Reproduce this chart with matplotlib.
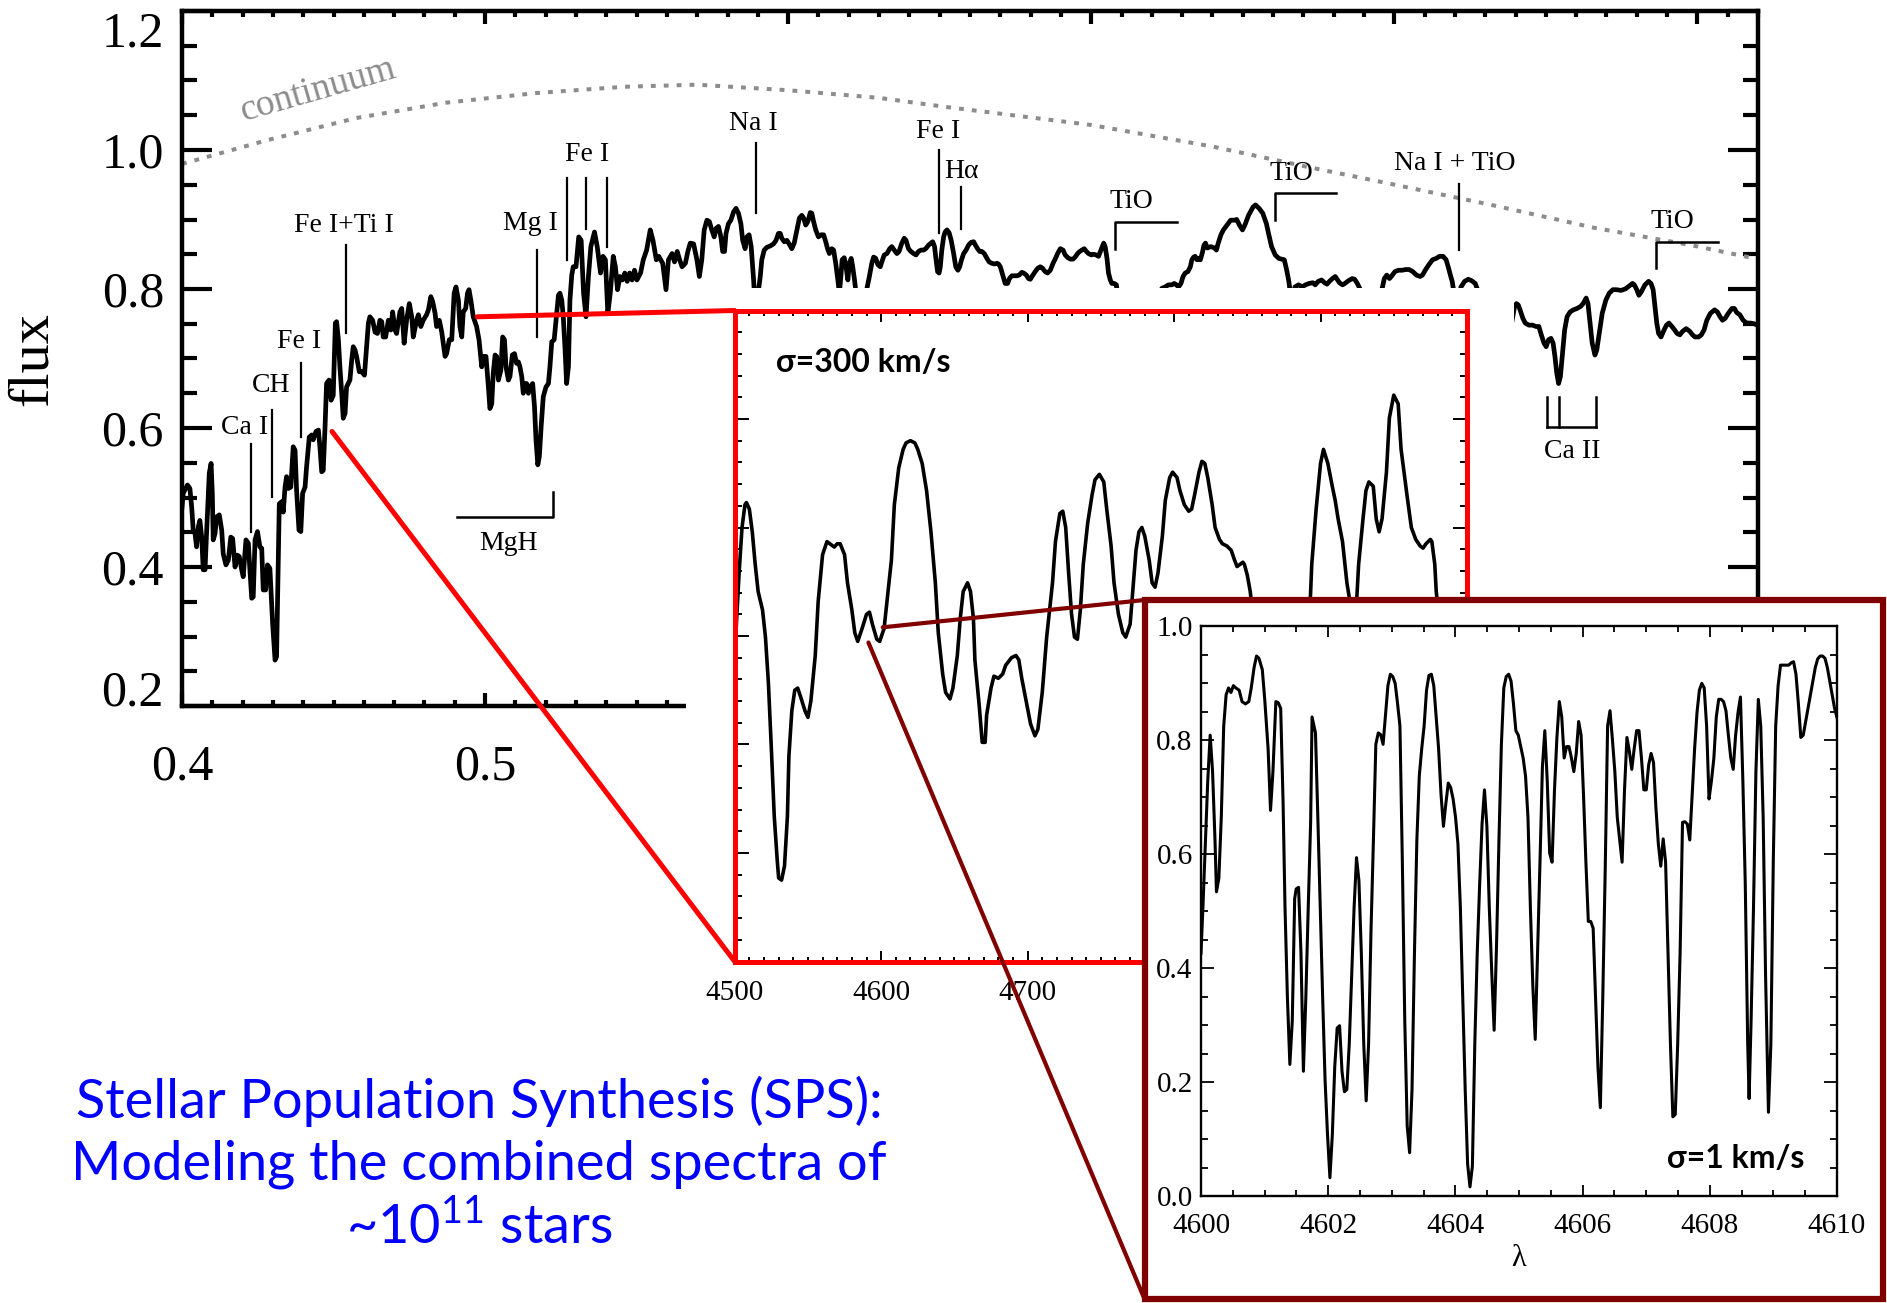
import matplotlib
matplotlib.use('Agg')
import matplotlib.pyplot as plt
from matplotlib.patches import Rectangle, ConnectionPatch
from matplotlib.ticker import MultipleLocator, FormatStrFormatter
import numpy as np

SERIF = ['Liberation Serif', 'DejaVu Serif']
SANS = ['Lato', 'DejaVu Sans']
plt.rcParams['font.family'] = SERIF
plt.rcParams['mathtext.default'] = 'regular'

MAROON = '#800000'
W, H = 1887, 1303

# composite spectrum: (wavelength [A], flux)
full_spec = np.array([
    (4000, 0.486), (4004, 0.506), (4018, 0.518), (4026, 0.513), (4032, 0.486), (4037, 0.453), (4043, 0.448),
    (4048, 0.429), (4054, 0.458), (4059, 0.467), (4065, 0.443), (4070, 0.396), (4076, 0.396), (4081, 0.448),
    (4090, 0.535), (4096, 0.549), (4100, 0.506), (4103, 0.439), (4109, 0.448), (4114, 0.472), (4123, 0.475),
    (4131, 0.453), (4136, 0.419), (4145, 0.403), (4153, 0.410), (4161, 0.443), (4167, 0.441), (4175, 0.400),
    (4183, 0.417), (4189, 0.415), (4197, 0.396), (4202, 0.386), (4211, 0.439), (4219, 0.434), (4224, 0.396),
    (4230, 0.355), (4235, 0.357), (4241, 0.439), (4249, 0.451), (4257, 0.429), (4263, 0.427), (4268, 0.367),
    (4276, 0.367), (4282, 0.403), (4290, 0.398), (4299, 0.319), (4307, 0.266), (4312, 0.271), (4318, 0.415),
    (4321, 0.491), (4329, 0.494), (4334, 0.479), (4340, 0.515), (4345, 0.530), (4351, 0.513), (4359, 0.515),
    (4367, 0.573), (4373, 0.568), (4378, 0.511), (4386, 0.453), (4392, 0.451), (4398, 0.506), (4406, 0.515),
    (4411, 0.544), (4420, 0.587), (4428, 0.590), (4433, 0.583), (4442, 0.595), (4450, 0.597), (4455, 0.573),
    (4461, 0.537), (4466, 0.539), (4472, 0.602), (4477, 0.664), (4485, 0.669), (4492, 0.640), (4499, 0.647),
    (4506, 0.751), (4510, 0.753), (4516, 0.727), (4521, 0.688), (4527, 0.650), (4532, 0.614), (4538, 0.621),
    (4543, 0.659), (4554, 0.669), (4560, 0.698), (4565, 0.717), (4571, 0.712), (4576, 0.703), (4585, 0.681),
    (4593, 0.681), (4602, 0.676), (4609, 0.717), (4615, 0.751), (4620, 0.760), (4629, 0.755), (4637, 0.738),
    (4645, 0.736), (4653, 0.755), (4659, 0.753), (4664, 0.731), (4672, 0.731), (4681, 0.755), (4689, 0.741),
    (4695, 0.767), (4703, 0.741), (4708, 0.736), (4719, 0.767), (4725, 0.772), (4733, 0.722), (4741, 0.755),
    (4750, 0.779), (4758, 0.760), (4763, 0.731), (4774, 0.755), (4780, 0.763), (4788, 0.746), (4796, 0.755),
    (4807, 0.763), (4813, 0.770), (4821, 0.789), (4827, 0.782), (4835, 0.765), (4840, 0.746), (4849, 0.755),
    (4857, 0.738), (4868, 0.703), (4873, 0.707), (4882, 0.727), (4890, 0.727), (4898, 0.794), (4904, 0.803),
    (4912, 0.784), (4917, 0.746), (4923, 0.731), (4928, 0.767), (4936, 0.772), (4942, 0.794), (4947, 0.799),
    (4953, 0.784), (4961, 0.760), (4972, 0.746), (4980, 0.727), (4989, 0.688), (4994, 0.703), (5003, 0.703),
    (5011, 0.659), (5016, 0.628), (5022, 0.635), (5027, 0.679), (5033, 0.705), (5038, 0.703), (5044, 0.669),
    (5052, 0.683), (5058, 0.731), (5064, 0.727), (5069, 0.688), (5077, 0.669), (5082, 0.674), (5090, 0.705),
    (5097, 0.707), (5104, 0.693), (5110, 0.695), (5115, 0.688), (5121, 0.674), (5126, 0.650), (5132, 0.664),
    (5137, 0.664), (5143, 0.650), (5148, 0.659), (5157, 0.664), (5163, 0.631), (5168, 0.583), (5174, 0.547),
    (5179, 0.559), (5185, 0.602), (5192, 0.645), (5201, 0.659), (5209, 0.664), (5214, 0.688), (5220, 0.724),
    (5228, 0.727), (5234, 0.755), (5242, 0.791), (5247, 0.794), (5253, 0.784), (5258, 0.760), (5264, 0.712),
    (5269, 0.664), (5275, 0.688), (5280, 0.784), (5286, 0.820), (5291, 0.832), (5300, 0.832), (5309, 0.875),
    (5317, 0.870), (5325, 0.794), (5333, 0.760), (5341, 0.818), (5349, 0.861), (5361, 0.882), (5370, 0.861),
    (5381, 0.823), (5389, 0.847), (5397, 0.842), (5405, 0.765), (5413, 0.794), (5423, 0.847), (5430, 0.832),
    (5437, 0.799), (5445, 0.818), (5453, 0.813), (5461, 0.823), (5469, 0.811), (5477, 0.823), (5485, 0.813),
    (5493, 0.827), (5501, 0.813), (5513, 0.823), (5522, 0.842), (5533, 0.856), (5545, 0.885), (5554, 0.870),
    (5565, 0.842), (5573, 0.847), (5586, 0.837), (5597, 0.799), (5605, 0.842), (5617, 0.851), (5625, 0.839),
    (5634, 0.854), (5642, 0.842), (5650, 0.832), (5661, 0.837), (5669, 0.854), (5677, 0.866), (5688, 0.865),
    (5699, 0.842), (5707, 0.818), (5715, 0.842), (5723, 0.885), (5732, 0.899), (5740, 0.897), (5748, 0.885),
    (5756, 0.875), (5762, 0.887), (5770, 0.890), (5778, 0.875), (5784, 0.854), (5790, 0.854), (5795, 0.880),
    (5803, 0.894), (5811, 0.899), (5820, 0.911), (5828, 0.916), (5836, 0.909), (5844, 0.894), (5850, 0.870),
    (5858, 0.858), (5864, 0.875), (5871, 0.878), (5878, 0.861), (5886, 0.813), (5891, 0.774), (5897, 0.765),
    (5902, 0.798), (5908, 0.818), (5913, 0.842), (5921, 0.856), (5930, 0.860), (5941, 0.862), (5952, 0.865),
    (5960, 0.870), (5968, 0.880), (5974, 0.880), (5979, 0.873), (5987, 0.868), (5996, 0.870), (6003, 0.865),
    (6012, 0.858), (6020, 0.866), (6029, 0.885), (6037, 0.902), (6045, 0.906), (6051, 0.902), (6058, 0.892),
    (6065, 0.897), (6073, 0.910), (6078, 0.909), (6084, 0.897), (6091, 0.885), (6100, 0.875), (6109, 0.878),
    (6117, 0.878), (6124, 0.868), (6130, 0.858), (6136, 0.851), (6144, 0.858), (6150, 0.856), (6157, 0.837),
    (6164, 0.813), (6169, 0.794), (6174, 0.818), (6178, 0.842), (6185, 0.845), (6191, 0.832), (6197, 0.813),
    (6202, 0.837), (6208, 0.844), (6213, 0.832), (6219, 0.813), (6224, 0.794), (6238, 0.775), (6249, 0.775),
    (6260, 0.801), (6268, 0.818), (6276, 0.837), (6282, 0.846), (6289, 0.844), (6296, 0.835), (6304, 0.832),
    (6309, 0.839), (6317, 0.849), (6326, 0.851), (6335, 0.858), (6342, 0.861), (6350, 0.856), (6359, 0.851),
    (6366, 0.854), (6375, 0.866), (6383, 0.873), (6389, 0.870), (6397, 0.858), (6405, 0.854), (6414, 0.851),
    (6422, 0.849), (6430, 0.854), (6438, 0.856), (6447, 0.856), (6454, 0.858), (6463, 0.863), (6471, 0.866),
    (6477, 0.868), (6483, 0.861), (6488, 0.842), (6493, 0.825), (6498, 0.823), (6502, 0.832), (6507, 0.856),
    (6513, 0.875), (6518, 0.882), (6524, 0.885), (6531, 0.881), (6538, 0.870), (6546, 0.851), (6553, 0.832),
    (6560, 0.827), (6566, 0.832), (6572, 0.842), (6579, 0.851), (6587, 0.856), (6595, 0.863), (6603, 0.867),
    (6612, 0.868), (6618, 0.863), (6625, 0.858), (6632, 0.854), (6639, 0.854), (6647, 0.851), (6656, 0.844),
    (6663, 0.839), (6672, 0.837), (6681, 0.836), (6689, 0.837), (6694, 0.836), (6700, 0.832), (6708, 0.820),
    (6716, 0.808), (6724, 0.808), (6730, 0.815), (6738, 0.819), (6746, 0.819), (6755, 0.819), (6762, 0.820),
    (6771, 0.824), (6777, 0.823), (6786, 0.820), (6793, 0.815), (6799, 0.814), (6806, 0.819), (6815, 0.825),
    (6824, 0.830), (6832, 0.832), (6839, 0.830), (6848, 0.825), (6856, 0.823), (6865, 0.827), (6874, 0.837),
    (6881, 0.843), (6889, 0.851), (6898, 0.858), (6907, 0.856), (6914, 0.849), (6923, 0.845), (6931, 0.843),
    (6940, 0.843), (6947, 0.846), (6955, 0.851), (6962, 0.854), (6969, 0.856), (6977, 0.858), (6984, 0.854),
    (6991, 0.851), (7000, 0.849), (7008, 0.850), (7016, 0.849), (7024, 0.847), (7032, 0.856), (7041, 0.866),
    (7046, 0.861), (7052, 0.844), (7057, 0.823), (7063, 0.813), (7068, 0.808), (7076, 0.808), (7083, 0.806),
    (7088, 0.789), (7129, 0.755), (7195, 0.755), (7233, 0.801), (7244, 0.803), (7255, 0.806), (7266, 0.806),
    (7274, 0.808), (7281, 0.806), (7288, 0.803), (7296, 0.808), (7303, 0.818), (7310, 0.823), (7319, 0.825),
    (7327, 0.832), (7332, 0.842), (7338, 0.846), (7343, 0.847), (7349, 0.842), (7356, 0.844), (7360, 0.842),
    (7366, 0.851), (7372, 0.863), (7377, 0.866), (7383, 0.859), (7395, 0.861), (7407, 0.859), (7413, 0.856),
    (7419, 0.866), (7428, 0.878), (7436, 0.885), (7448, 0.892), (7460, 0.899), (7472, 0.899), (7480, 0.900),
    (7489, 0.892), (7499, 0.885), (7507, 0.892), (7519, 0.906), (7534, 0.918), (7542, 0.921), (7554, 0.916),
    (7566, 0.909), (7578, 0.894), (7586, 0.878), (7595, 0.861), (7607, 0.849), (7619, 0.844), (7637, 0.842),
    (7645, 0.827), (7652, 0.811), (7657, 0.794), (7664, 0.775), (7672, 0.803), (7684, 0.806), (7696, 0.803),
    (7707, 0.806), (7719, 0.808), (7731, 0.809), (7739, 0.806), (7749, 0.811), (7760, 0.813), (7770, 0.809),
    (7778, 0.807), (7786, 0.811), (7796, 0.815), (7805, 0.818), (7813, 0.813), (7819, 0.809), (7829, 0.806),
    (7837, 0.808), (7849, 0.812), (7861, 0.815), (7869, 0.814), (7878, 0.808), (7888, 0.799), (7914, 0.775),
    (7943, 0.775), (7961, 0.803), (7967, 0.815), (7975, 0.820), (7984, 0.815), (7990, 0.818), (8002, 0.825),
    (8014, 0.827), (8026, 0.827), (8037, 0.828), (8049, 0.828), (8061, 0.825), (8073, 0.820), (8085, 0.818),
    (8093, 0.820), (8102, 0.827), (8114, 0.835), (8126, 0.842), (8138, 0.844), (8149, 0.847), (8161, 0.847),
    (8171, 0.842), (8179, 0.830), (8185, 0.820), (8191, 0.811), (8199, 0.789), (8211, 0.784), (8220, 0.803),
    (8232, 0.811), (8244, 0.814), (8255, 0.812), (8267, 0.808), (8279, 0.794), (8338, 0.731), (8385, 0.746),
    (8397, 0.775), (8403, 0.779), (8409, 0.777), (8415, 0.770), (8424, 0.758), (8432, 0.751), (8444, 0.748),
    (8456, 0.748), (8468, 0.746), (8477, 0.746), (8485, 0.734), (8494, 0.722), (8501, 0.717), (8509, 0.727),
    (8517, 0.729), (8524, 0.722), (8530, 0.703), (8536, 0.679), (8542, 0.664), (8548, 0.674), (8554, 0.703),
    (8562, 0.741), (8570, 0.760), (8580, 0.767), (8591, 0.770), (8603, 0.772), (8615, 0.775), (8623, 0.779),
    (8633, 0.787), (8639, 0.779), (8645, 0.755), (8653, 0.722), (8662, 0.705), (8668, 0.712), (8676, 0.736),
    (8686, 0.765), (8698, 0.784), (8709, 0.794), (8721, 0.799), (8733, 0.799), (8748, 0.798), (8762, 0.800),
    (8774, 0.804), (8786, 0.808), (8792, 0.806), (8800, 0.799), (8807, 0.791), (8815, 0.796), (8827, 0.806),
    (8839, 0.811), (8847, 0.808), (8854, 0.799), (8860, 0.775), (8866, 0.751), (8872, 0.736), (8880, 0.731),
    (8890, 0.741), (8898, 0.748), (8906, 0.751), (8916, 0.746), (8925, 0.741), (8933, 0.736), (8942, 0.734),
    (8951, 0.739), (8963, 0.743), (8975, 0.739), (8984, 0.734), (8992, 0.731), (9004, 0.731), (9013, 0.734),
    (9022, 0.741), (9031, 0.755), (9043, 0.765), (9057, 0.770), (9066, 0.767), (9075, 0.760), (9083, 0.755),
    (9092, 0.758), (9102, 0.765), (9114, 0.772), (9122, 0.772), (9130, 0.766), (9140, 0.763), (9151, 0.755),
    (9163, 0.751), (9175, 0.751), (9187, 0.750), (9198, 0.748),
])

# stellar continuum (wavelength [A], flux)
continuum = np.array([
    (4000, 0.980), (4280, 1.014), (4575, 1.046), (4870, 1.068), (5170, 1.082), (5460, 1.091),
    (5700, 1.094), (6000, 1.086), (6300, 1.075), (6520, 1.062), (7000, 1.036), (7400, 1.005),
    (7710, 0.976), (7980, 0.952), (8320, 0.921), (8660, 0.888), (8980, 0.863), (9200, 0.843),
])

# sigma = 300 km/s model, 4500-5000 A
spec_300 = np.array([
    (4500, 0.690), (4501, 0.707), (4503, 0.758), (4505, 0.800), (4507, 0.821), (4508, 0.823), (4510, 0.817),
    (4512, 0.796), (4514, 0.766), (4516, 0.741), (4519, 0.724), (4521, 0.699), (4523, 0.657), (4525, 0.597),
    (4527, 0.534), (4529, 0.494), (4530, 0.477), (4532, 0.475), (4534, 0.488), (4536, 0.534), (4537, 0.589),
    (4539, 0.631), (4541, 0.650), (4543, 0.652), (4545, 0.644), (4548, 0.631), (4550, 0.625), (4552, 0.640),
    (4555, 0.682), (4557, 0.732), (4560, 0.775), (4563, 0.787), (4565, 0.785), (4568, 0.782), (4570, 0.785),
    (4572, 0.785), (4575, 0.775), (4577, 0.749), (4580, 0.724), (4582, 0.703), (4584, 0.695), (4587, 0.707),
    (4590, 0.720), (4592, 0.722), (4594, 0.711), (4597, 0.697), (4599, 0.695), (4602, 0.707), (4604, 0.732),
    (4607, 0.770), (4609, 0.821), (4612, 0.855), (4615, 0.872), (4617, 0.878), (4620, 0.880), (4623, 0.878),
    (4625, 0.872), (4628, 0.859), (4631, 0.834), (4634, 0.796), (4637, 0.749), (4639, 0.703), (4642, 0.665),
    (4644, 0.648), (4647, 0.642), (4649, 0.652), (4652, 0.682), (4654, 0.716), (4656, 0.741), (4659, 0.749),
    (4661, 0.741), (4663, 0.716), (4664, 0.678), (4667, 0.635), (4669, 0.602), (4671, 0.602), (4672, 0.627),
    (4675, 0.652), (4677, 0.663), (4680, 0.661), (4683, 0.665), (4685, 0.673), (4689, 0.680), (4692, 0.682),
    (4694, 0.678), (4696, 0.661), (4699, 0.640), (4702, 0.619), (4705, 0.608), (4707, 0.614), (4710, 0.648),
    (4713, 0.699), (4717, 0.749), (4719, 0.787), (4722, 0.813), (4724, 0.815), (4726, 0.800), (4728, 0.758),
    (4730, 0.720), (4732, 0.699), (4734, 0.697), (4736, 0.724), (4738, 0.766), (4741, 0.804), (4744, 0.830),
    (4746, 0.844), (4749, 0.849), (4752, 0.842), (4754, 0.817), (4757, 0.783), (4759, 0.749), (4762, 0.720),
    (4765, 0.703), (4767, 0.699), (4770, 0.711), (4772, 0.745), (4774, 0.779), (4776, 0.796), (4778, 0.800),
    (4780, 0.792), (4783, 0.770), (4785, 0.749), (4787, 0.745), (4789, 0.758), (4792, 0.792), (4794, 0.825),
    (4797, 0.846), (4799, 0.851), (4802, 0.846), (4804, 0.834), (4807, 0.821), (4810, 0.815), (4812, 0.817),
    (4814, 0.830), (4817, 0.851), (4819, 0.861), (4821, 0.859), (4823, 0.846), (4826, 0.821), (4828, 0.800),
    (4831, 0.789), (4833, 0.785), (4836, 0.783), (4839, 0.779), (4841, 0.771), (4843, 0.764), (4845, 0.766),
    (4847, 0.768), (4848, 0.766), (4850, 0.756), (4852, 0.741), (4854, 0.716), (4867, 0.682), (4880, 0.699),
    (4891, 0.716), (4893, 0.733), (4894, 0.766), (4897, 0.817), (4900, 0.859), (4902, 0.872), (4905, 0.859),
    (4908, 0.838), (4910, 0.825), (4912, 0.808), (4915, 0.787), (4918, 0.749), (4921, 0.724), (4924, 0.716),
    (4926, 0.766), (4929, 0.808), (4931, 0.834), (4933, 0.842), (4936, 0.838), (4938, 0.808), (4940, 0.796),
    (4942, 0.808), (4945, 0.851), (4947, 0.901), (4950, 0.922), (4953, 0.914), (4955, 0.872), (4959, 0.830),
    (4962, 0.800), (4965, 0.789), (4968, 0.783), (4970, 0.781), (4972, 0.785), (4975, 0.789), (4976, 0.787),
    (4978, 0.766), (4979, 0.741), (4981, 0.716), (4992, 0.699), (5000, 0.707),
])

# sigma = 1 km/s model, 4600-4610 A
spec_1 = np.array([
    (4600.000, 0.426), (4600.030, 0.506), (4600.068, 0.618), (4600.106, 0.729), (4600.144, 0.809),
    (4600.182, 0.745), (4600.220, 0.625), (4600.243, 0.534), (4600.281, 0.558), (4600.319, 0.665),
    (4600.357, 0.825), (4600.395, 0.880), (4600.433, 0.892), (4600.471, 0.884), (4600.509, 0.896),
    (4600.547, 0.892), (4600.600, 0.888), (4600.645, 0.868), (4600.699, 0.864), (4600.752, 0.868),
    (4600.790, 0.892), (4600.835, 0.928), (4600.873, 0.948), (4600.911, 0.944), (4600.964, 0.924),
    (4601.002, 0.872), (4601.055, 0.785), (4601.093, 0.677), (4601.131, 0.745), (4601.177, 0.868),
    (4601.215, 0.866), (4601.253, 0.856), (4601.291, 0.689), (4601.321, 0.506), (4601.359, 0.347),
    (4601.397, 0.231), (4601.435, 0.307), (4601.473, 0.522), (4601.496, 0.539), (4601.534, 0.542),
    (4601.572, 0.426), (4601.610, 0.219), (4601.648, 0.347), (4601.686, 0.506), (4601.724, 0.657),
    (4601.746, 0.841), (4601.800, 0.813), (4601.837, 0.665), (4601.875, 0.506), (4601.913, 0.347),
    (4601.951, 0.203), (4601.989, 0.108), (4602.027, 0.032), (4602.065, 0.108), (4602.103, 0.227),
    (4602.141, 0.295), (4602.179, 0.299), (4602.217, 0.219), (4602.255, 0.183), (4602.293, 0.187),
    (4602.331, 0.267), (4602.369, 0.386), (4602.407, 0.506), (4602.445, 0.594), (4602.483, 0.554),
    (4602.521, 0.426), (4602.559, 0.267), (4602.597, 0.167), (4602.635, 0.267), (4602.673, 0.466),
    (4602.711, 0.625), (4602.749, 0.793), (4602.787, 0.813), (4602.825, 0.810), (4602.863, 0.793),
    (4602.901, 0.845), (4602.939, 0.896), (4602.977, 0.916), (4603.015, 0.912), (4603.053, 0.900),
    (4603.091, 0.864), (4603.128, 0.825), (4603.166, 0.586), (4603.204, 0.307), (4603.242, 0.123),
    (4603.280, 0.076), (4603.318, 0.187), (4603.356, 0.426), (4603.394, 0.625), (4603.432, 0.737),
    (4603.470, 0.785), (4603.508, 0.825), (4603.546, 0.888), (4603.584, 0.914), (4603.622, 0.916),
    (4603.660, 0.896), (4603.698, 0.841), (4603.736, 0.785), (4603.774, 0.705), (4603.812, 0.649),
    (4603.850, 0.689), (4603.888, 0.725), (4603.926, 0.717), (4603.964, 0.697), (4604.002, 0.665),
    (4604.040, 0.618), (4604.078, 0.506), (4604.116, 0.347), (4604.154, 0.187), (4604.192, 0.056),
    (4604.229, 0.016), (4604.267, 0.052), (4604.305, 0.267), (4604.343, 0.426), (4604.381, 0.546),
    (4604.419, 0.653), (4604.457, 0.713), (4604.495, 0.649), (4604.533, 0.506), (4604.571, 0.394),
    (4604.609, 0.291), (4604.647, 0.442), (4604.685, 0.625), (4604.723, 0.793), (4604.761, 0.892),
    (4604.799, 0.912), (4604.837, 0.916), (4604.875, 0.904), (4604.913, 0.864), (4604.951, 0.817),
    (4604.989, 0.809), (4605.027, 0.789), (4605.065, 0.769), (4605.103, 0.737), (4605.141, 0.665),
    (4605.179, 0.506), (4605.217, 0.370), (4605.255, 0.275), (4605.292, 0.426), (4605.330, 0.586),
    (4605.368, 0.753), (4605.406, 0.817), (4605.444, 0.729), (4605.482, 0.602), (4605.520, 0.586),
    (4605.558, 0.713), (4605.596, 0.805), (4605.634, 0.868), (4605.672, 0.841), (4605.710, 0.769),
    (4605.748, 0.789), (4605.786, 0.789), (4605.824, 0.769), (4605.862, 0.745), (4605.900, 0.777),
    (4605.938, 0.833), (4605.976, 0.809), (4606.014, 0.705), (4606.052, 0.586), (4606.090, 0.482),
    (4606.128, 0.482), (4606.166, 0.470), (4606.204, 0.347), (4606.241, 0.227), (4606.279, 0.155),
    (4606.317, 0.347), (4606.355, 0.570), (4606.393, 0.825), (4606.431, 0.852), (4606.469, 0.801),
    (4606.507, 0.745), (4606.545, 0.665), (4606.583, 0.625), (4606.621, 0.586), (4606.659, 0.713),
    (4606.697, 0.805), (4606.735, 0.781), (4606.773, 0.749), (4606.811, 0.785), (4606.849, 0.817),
    (4606.887, 0.817), (4606.925, 0.769), (4606.963, 0.713), (4607.001, 0.713), (4607.039, 0.757),
    (4607.077, 0.777), (4607.115, 0.761), (4607.153, 0.681), (4607.191, 0.618), (4607.229, 0.579),
    (4607.267, 0.627), (4607.305, 0.586), (4607.343, 0.426), (4607.381, 0.267), (4607.419, 0.139),
    (4607.457, 0.143), (4607.495, 0.267), (4607.533, 0.426), (4607.571, 0.656), (4607.609, 0.657),
    (4607.647, 0.653), (4607.685, 0.625), (4607.723, 0.705), (4607.761, 0.785), (4607.799, 0.849),
    (4607.836, 0.888), (4607.874, 0.900), (4607.912, 0.892), (4607.950, 0.825), (4607.988, 0.697),
    (4608.026, 0.729), (4608.064, 0.769), (4608.102, 0.841), (4608.140, 0.872), (4608.178, 0.872),
    (4608.216, 0.868), (4608.254, 0.852), (4608.292, 0.809), (4608.330, 0.769), (4608.368, 0.749),
    (4608.406, 0.809), (4608.444, 0.849), (4608.482, 0.876), (4608.520, 0.729), (4608.558, 0.546),
    (4608.596, 0.267), (4608.618, 0.171), (4608.649, 0.307), (4608.687, 0.506), (4608.725, 0.745),
    (4608.763, 0.872), (4608.801, 0.825), (4608.839, 0.665), (4608.877, 0.386), (4608.922, 0.147),
    (4608.960, 0.267), (4608.998, 0.586), (4609.036, 0.825), (4609.074, 0.896), (4609.112, 0.932),
    (4609.165, 0.932), (4609.203, 0.932), (4609.241, 0.932), (4609.279, 0.936), (4609.317, 0.938),
    (4609.355, 0.916), (4609.393, 0.864), (4609.431, 0.805), (4609.469, 0.809), (4609.507, 0.833),
    (4609.545, 0.856), (4609.583, 0.880), (4609.621, 0.904), (4609.659, 0.928), (4609.697, 0.943),
    (4609.735, 0.948), (4609.773, 0.948), (4609.811, 0.944), (4609.848, 0.928), (4609.886, 0.904),
    (4609.924, 0.880), (4609.962, 0.856), (4610.000, 0.840),
])

# line identifications: label, label x, label y, [(x, y top, y bottom), ...]  (x in micron)
line_marks = [
    ('Ca I', 0.4207, 0.601, [(0.4228, 0.577, 0.451)]),
    ('CH', 0.4293, 0.661, [(0.4296, 0.626, 0.501)]),
    ('Fe I', 0.4387, 0.724, [(0.4393, 0.694, 0.587)]),
    ('Fe I+Ti I', 0.4535, 0.892, [(0.4540, 0.863, 0.736)]),
    ('Mg I', 0.5150, 0.894, [(0.5172, 0.856, 0.731)]),
    ('Fe I', 0.5337, 0.993, [(0.5269, 0.959, 0.842), (0.5333, 0.959, 0.887), (0.5402, 0.959, 0.861)]),
    ('Na I', 0.5885, 1.038, [(0.5893, 1.010, 0.909)]),
    ('Fe I', 0.6493, 1.026, [(0.6498, 1.000, 0.880)]),
    ('H\u03b1', 0.6573, 0.969, [(0.6569, 0.947, 0.887)]),
    ('Na I + TiO', 0.8201, 0.981, [(0.8214, 0.951, 0.856)]),
]
# TiO band heads: x start, x end, y top, y bottom, label x, label y
tio_bands = [
    (0.7077, 0.7282, 0.897, 0.858, 0.7133, 0.926),
    (0.7605, 0.7808, 0.938, 0.899, 0.7659, 0.966),
    (0.8865, 0.9067, 0.868, 0.830, 0.8918, 0.897),
]
mgh_band = (0.4906, 0.5225, 0.472, 0.508, 0.5077, 0.434)
ca2_lines = [0.8504, 0.8542, 0.8667]
ca2_box = (0.602, 0.645, 0.8588, 0.566)

main_xticks = [0.4, 0.5, 0.6, 0.7, 0.8, 0.9]
main_yticks = [0.2, 0.4, 0.6, 0.8, 1.0, 1.2]
zoom_xticks = [4500, 4600, 4700, 4800, 4900, 5000]


def fx(px):
    return px / W


def fy(py):
    return 1 - py / H


def serif_ticklabels(a):
    for t in a.get_xticklabels() + a.get_yticklabels():
        t.set_fontfamily(SERIF)


fig = plt.figure(figsize=(W / 100, H / 100), dpi=100)

# ---- full spectrum ----
ax = fig.add_axes([fx(182), fy(706), (1758 - 182) / W, (706 - 11) / H], zorder=0)
ax.plot(full_spec[:, 0] / 1e4, full_spec[:, 1], color='black', lw=3.4,
        solid_joinstyle='round', zorder=3)
ax.plot(continuum[:, 0] / 1e4, continuum[:, 1], color='#8c8c8c', lw=2.9,
        linestyle=(0, (1.2, 2.0)), dash_capstyle='butt')
ax.text(0.4449, 1.086, 'continuum', color='#8c8c8c', fontsize=27, rotation=16,
        ha='center', va='center', rotation_mode='anchor')

for label, lx, ly, segs in line_marks:
    for x, y0, y1 in segs:
        ax.plot([x, x], [y1, y0], color='black', lw=1.6)
    ax.text(lx, ly, label, fontsize=20, ha='center', va='center')
for x0, x1, yt, yb, lx, ly in tio_bands:
    ax.plot([x0, x0, x1], [yb, yt, yt], color='black', lw=1.8)
    ax.text(lx, ly, 'TiO', fontsize=20, ha='center', va='center')
x0, x1, yb, yt, lx, ly = mgh_band
ax.plot([x0, x1, x1], [yb, yb, yt], color='black', lw=1.8)
ax.text(lx, ly, 'MgH', fontsize=20, ha='center', va='center')
yb, yt, lx, ly = ca2_box
ax.plot([ca2_lines[0], ca2_lines[-1]], [yb, yb], color='black', lw=1.8)
for c in ca2_lines:
    ax.plot([c, c], [yb, yt], color='black', lw=1.8)
ax.text(lx, ly, 'Ca II', fontsize=20, ha='center', va='center')

ax.set_xlim(0.4, 0.92)
ax.set_ylim(0.2, 1.2)
# labels past 0.5 sit under the zoom panel
ax.set_xticks(main_xticks, labels=['%.1f' % v if v < 0.55 else '' for v in main_xticks])
ax.set_yticks(main_yticks, labels=['%.1f' % v for v in main_yticks])
ax.xaxis.set_minor_locator(MultipleLocator(0.01))
ax.yaxis.set_minor_locator(MultipleLocator(0.05))
ax.tick_params(which='both', direction='in', top=True, right=True, width=3.0,
               labelsize=36)
ax.tick_params(axis='x', which='major', length=9.5, pad=27)
ax.tick_params(axis='x', which='minor', length=4.5)
ax.tick_params(axis='y', which='major', length=21.5, pad=13)
ax.tick_params(axis='y', which='minor', length=11)
for s in ax.spines.values():
    s.set_linewidth(3.2)
yt_ticks = ax.yaxis.get_major_ticks()
yt_ticks[0].label1.set_va('baseline')
yt_ticks[-1].label1.set_va('top')
fig.text(fx(33), fy(359), 'flux', rotation=90, fontsize=42, ha='center', va='center')

# blank panel that the 300 km/s zoom sits on
fig.add_artist(Rectangle((fx(686), fy(1010)), (1514 - 686) / W, (1010 - 288) / H,
                         transform=fig.transFigure, fc='white', ec='none', zorder=1.5))

# ---- sigma = 300 km/s zoom ----
ax1 = fig.add_axes([fx(734.7), fy(961.5), (1467 - 734.7) / W, (961.5 - 310.5) / H], zorder=2)
ax1.plot(spec_300[:, 0], spec_300[:, 1], color='black', lw=2.6, solid_joinstyle='round')
ax1.set_xlim(4500, 5000)
ax1.set_ylim(0.4, 1.0)
# labels from 4800 on are covered by the 1 km/s panel
ax1.set_xticks(zoom_xticks, labels=[str(v) if v < 4750 else '' for v in zoom_xticks])
ax1.xaxis.set_minor_locator(MultipleLocator(10))
ax1.yaxis.set_major_locator(MultipleLocator(0.1))
ax1.yaxis.set_minor_locator(MultipleLocator(0.02))
ax1.tick_params(which='both', direction='in', top=True, right=True, width=1.4,
                labelleft=False, labelsize=21)
ax1.tick_params(axis='x', which='major', length=8, pad=13)
ax1.tick_params(axis='x', which='minor', length=3.8)
ax1.tick_params(axis='y', which='major', length=10)
ax1.tick_params(axis='y', which='minor', length=5)
for s in ax1.spines.values():
    s.set_color('red')
    s.set_linewidth(3.6)
serif_ticklabels(ax1)
ax1.text(0.057, 0.92, '\u03c3=300 km/s', transform=ax1.transAxes, fontsize=23,
         fontweight='bold', family=SANS, ha='left', va='center')

for xy_main, corner in [((0.4974, 0.760), (0, 1)), ((0.4495, 0.595), (0, 0))]:
    fig.add_artist(ConnectionPatch(xyA=xy_main, coordsA=ax.transData, xyB=corner,
                                   coordsB=ax1.transAxes, color='red', lw=3.6, zorder=3))

# ---- sigma = 1 km/s zoom ----
box_x0, box_x1, box_top, box_bot = 1144.5, 1883, 600, 1299
for xy_zoom, corner in [((4601.1, 0.708), (fx(box_x0), fy(box_top))),
                        ((4591.3, 0.694), (fx(box_x0), fy(box_bot)))]:
    fig.add_artist(ConnectionPatch(xyA=xy_zoom, coordsA=ax1.transData, xyB=corner,
                                   coordsB=fig.transFigure, color=MAROON, lw=3.0, zorder=4))
fig.add_artist(Rectangle((fx(box_x0), fy(box_bot)), (box_x1 - box_x0) / W, (box_bot - box_top) / H,
                         transform=fig.transFigure, fc='white', ec=MAROON, lw=4.5, zorder=5))

ax2 = fig.add_axes([fx(1201), fy(1196), (1837 - 1201) / W, (1196 - 626.4) / H], zorder=6)
ax2.plot(spec_1[:, 0], spec_1[:, 1], color='black', lw=2.2)
ax2.set_xlim(4600, 4610)
ax2.set_ylim(0, 1.0)
ax2.xaxis.set_major_locator(MultipleLocator(2))
ax2.xaxis.set_minor_locator(MultipleLocator(0.5))
ax2.yaxis.set_major_locator(MultipleLocator(0.2))
ax2.yaxis.set_minor_locator(MultipleLocator(0.05))
ax2.xaxis.set_major_formatter(FormatStrFormatter('%d'))
ax2.yaxis.set_major_formatter(FormatStrFormatter('%.1f'))
ax2.tick_params(which='both', direction='in', top=True, right=True, width=1.3, labelsize=21)
ax2.tick_params(axis='x', which='major', length=8, pad=12)
ax2.tick_params(axis='x', which='minor', length=4)
ax2.tick_params(axis='y', which='major', length=9.5, pad=6)
ax2.tick_params(axis='y', which='minor', length=4.7)
for s in ax2.spines.values():
    s.set_linewidth(1.7)
serif_ticklabels(ax2)
ax2.text(0.5, -0.109, '\u03bb', transform=ax2.transAxes, fontsize=22, ha='center', va='center')
ax2.text(0.948, 0.065, '\u03c3=1 km/s', transform=ax2.transAxes, fontsize=23,
         fontweight='bold', family=SANS, ha='right', va='center')

# ---- caption ----
caption = ['Stellar Population Synthesis (SPS):', 'Modeling the combined spectra of',
           '~10$^{11}$ stars']
for line, ypx in zip(caption, [1101, 1164, 1227]):
    fig.text(fx(479), fy(ypx), line, color='#0000ff', fontsize=39, family=SANS,
             ha='center', va='center')

fig.savefig('out.png', dpi=100)
